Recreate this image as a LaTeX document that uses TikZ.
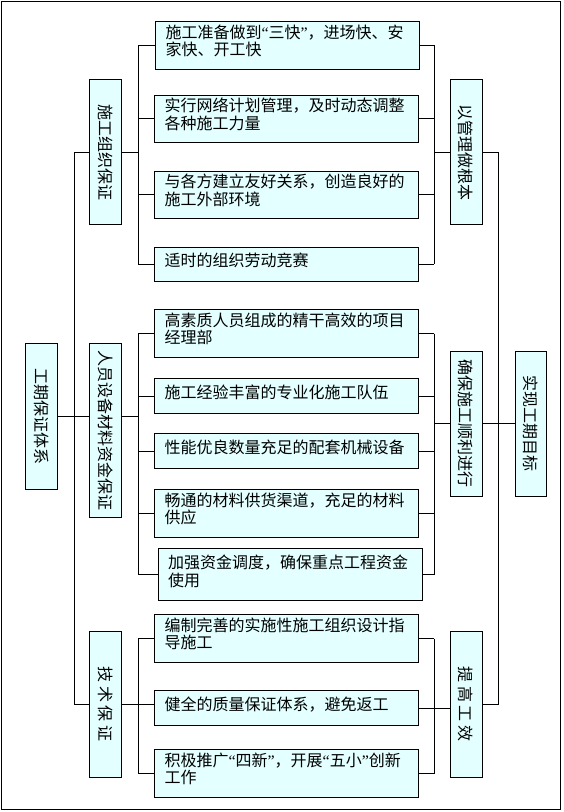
\documentclass[tikz,border=0pt]{standalone}
\usepackage{fontspec}
\setmainfont{Noto Sans CJK SC}
\newfontfamily\quotefont{Liberation Serif}
\newcommand\oq{{\quotefont “}}
\newcommand\cq{{\quotefont ”}}
\usetikzlibrary{positioning}
\definecolor{boxfill}{HTML}{E3FFFF}

\begin{document}
\begin{tikzpicture}[
    x=0.75pt, y=-0.75pt,
    line width=0.75pt,
    item/.style={draw, fill=boxfill, anchor=north west, align=left, text width=183pt,
                 inner xsep=7.5pt, inner ysep=2pt, minimum width=198pt, text depth=7pt,
                 font=\fontsize{12}{13}\selectfont},
    twoline/.style={text depth=21pt},
    side/.style={draw, fill=boxfill, rotate=-90, minimum height=24pt, inner sep=1pt,
                 font=\fontsize{12}{13}\selectfont}
]

\useasboundingbox (0,0) rectangle (563,812);
\draw (1.5,1.5) rectangle (560.5,809.5);

\coordinate (lt) at (74,0);
\coordinate (lb) at (138,0);
\coordinate (rb) at (434,0);
\coordinate (rt) at (498,0);

\node[side, minimum width=109.5pt] (root) at (41.5,416) {工期保证体系\hspace{19pt}};
\node[side, minimum width=108.75pt] (g1) at (105.6,152.5) {施工组织保证};
\node[side, minimum width=130.5pt] (g2) at (105.6,430) {人员设备材料资金保证};
\node[side, minimum width=109.5pt] (g3) at (105.6,704) {技 术 保 证};
\node[side, minimum width=108.75pt] (h1) at (466,152.5) {以管理做根本};
\node[side, minimum width=108.75pt] (h2) at (466,423.5) {确保施工顺利进行};
\node[side, minimum width=109.5pt] (h3) at (466,704) {提 高 工 效};
\node[side, minimum width=108.75pt, minimum height=23.25pt] (goal) at (530.5,423.5) {实现工期目标};

\node[item, twoline, minimum height=36pt] (b1) at (155,21) {施工准备做到\oq 三快\cq ，进场快、安\\家快、开工快};
\node[item, twoline, minimum height=35.25pt] (b2) at (154,95) {实行网络计划管理，及时动态调整\\各种施工力量};
\node[item, twoline, minimum height=35.25pt] (b3) at (154,171) {与各方建立友好关系，创造良好的\\施工外部环境};
\node[item, minimum height=25.5pt] (b4) at (154,247) {适时的组织劳动竞赛};
\node[item, twoline, minimum height=36pt] (b5) at (154,309) {高素质人员组成的精干高效的项目\\经理部};
\node[item, minimum height=26.25pt] (b6) at (154,378) {施工经验丰富的专业化施工队伍};
\node[item, minimum height=26.25pt] (b7) at (154,433) {性能优良数量充足的配套机械设备};
\node[item, twoline, minimum height=36pt] (b8) at (154,489) {畅通的材料供货渠道，充足的材料\\供应};
\node[item, text depth=18.5pt, minimum height=39pt] (b9) at (157.5,548) {加强资金调度，确保重点工程资金\\使用};
\node[item, twoline, minimum height=36pt] (b10) at (154,614) {编制完善的实施性施工组织设计指\\导施工};
\node[item, minimum height=26.25pt] (b11) at (154,690) {健全的质量保证体系，避免返工};
\node[item, twoline, minimum height=36pt] (b12) at (154,749) {积极推广\oq 四新\cq ，开展\oq 五小\cq 创新\\工作};

\draw (g1.south) -- (g1.south -| lt) -- (g3.south -| lt) -- (g3.south);
\draw (root.north) -- (root.north -| g2.south);
\draw (h1.north) -- (h1.north -| rt) -- (h3.north -| rt) -- (h3.north);
\draw (h2.north) -- (h2.north -| goal.south);

\draw (g1.north) -- (g1.north -| lb);
\draw (b1.west -| lb) -- (b4.west -| lb);
\draw (b1.east -| rb) -- (b4.east -| rb);
\draw (h1.south) -- (h1.south -| rb);

\draw (root.north -| g2.north) -- (root.north -| lb);
\draw (b5.west -| lb) -- (b9.west -| lb);
\draw (b5.east -| rb) -- (b9.east -| rb);
\draw (h2.south) -- (h2.south -| rb);

\draw (g3.north) -- (g3.north -| b11.west);
\draw (b10.west -| lb) -- (b12.west -| lb);
\draw (b10.east -| rb) -- (b12.east -| rb);
\draw (b11.east) -- (b11.east -| h3.south);

\foreach \b in {b1,b2,b3,b4,b5,b6,b7,b8,b9,b10,b12}
    \draw (\b.west) -- (\b.west -| lb);
\foreach \b in {b1,b2,b3,b4,b5,b6,b7,b8,b9,b10,b12}
    \draw (\b.east) -- (\b.east -| rb);

\end{tikzpicture}
\end{document}
